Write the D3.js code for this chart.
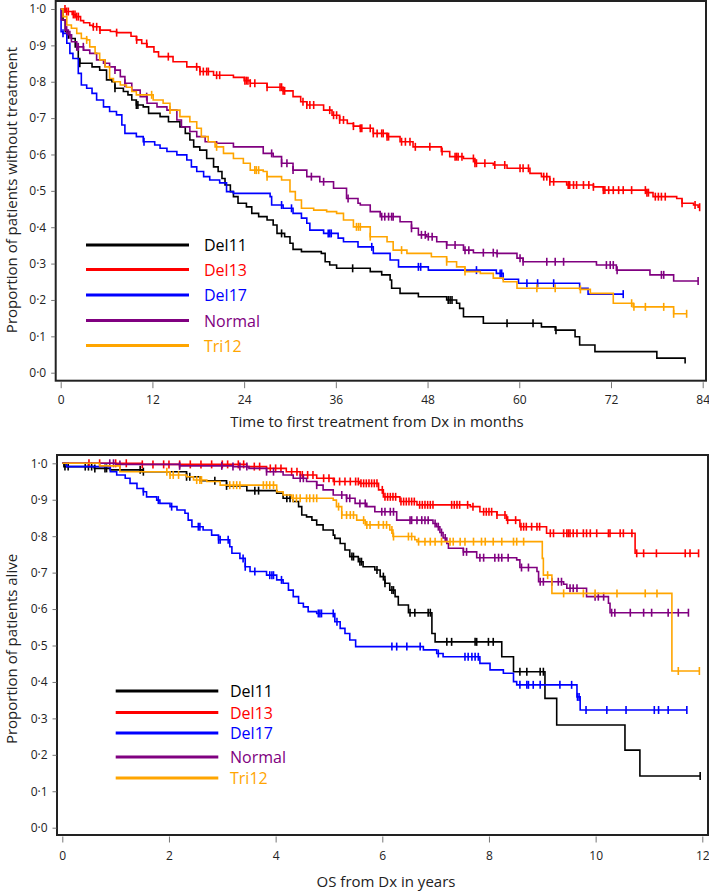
<!DOCTYPE html>
<html>
<head>
<meta charset="utf-8">
<script src="https://cdn.jsdelivr.net/npm/d3@7"></script>
<style>
  body { margin: 0; background: #fff; }
  svg { display: block; font-family: "Open Sans", "Noto Sans", sans-serif; }
</style>
</head>
<body>
<svg id="chart" width="709" height="892"></svg>
<script>
// ---------------- DATA ----------------
const groups = ["Del11", "Del13", "Del17", "Normal", "Tri12"];
const groupColors = ["#000000", "#ff0000", "#0000ff", "#800080", "#ffa500"];

// Panel 1: time to first treatment (months)
const tttTicksX = [0, 12, 24, 36, 48, 60, 72, 84];
const yTicks = [0, 0.1, 0.2, 0.3, 0.4, 0.5, 0.6, 0.7, 0.8, 0.9, 1.0];

// steps: [time of drop, new survival level]
const tttDel11 = [[0,1],[0.3,0.970],[0.6,0.938],[1.0,0.929],[1.4,0.919],[1.9,0.896],[2.3,0.864],[2.5,0.851],[4.1,0.841],[5.1,0.832],[6.0,0.805],[6.7,0.800],[7.1,0.782],[8.2,0.773],[8.8,0.764],[9.3,0.750],[9.9,0.736],[10.8,0.731],[11.5,0.713],[13,0.704],[14.1,0.690],[15.6,0.676],[16.3,0.658],[16.9,0.640],[17.4,0.621],[18.2,0.612],[19.1,0.589],[20,0.566],[20.6,0.553],[21.1,0.534],[21.5,0.516],[22.2,0.498],[22.6,0.484],[23.2,0.466],[24.3,0.456],[25,0.438],[25.9,0.429],[27,0.420],[27.8,0.406],[28.3,0.383],[29.3,0.374],[30,0.356],[30.4,0.339],[31.5,0.333],[34.1,0.328],[34.6,0.305],[35.2,0.296],[36.1,0.287],[40.5,0.278],[42,0.269],[43.1,0.255],[43.3,0.232],[44.4,0.218],[46.8,0.209],[50.5,0.200],[51.8,0.191],[52.2,0.177],[52.7,0.154],[55.3,0.136],[62.9,0.126],[64.7,0.117],[67.3,0.099],[67.9,0.076],[69.9,0.058],[78,0.040],[81.7,0.025]];
const tttDel11Cens = [1.0, 2.5, 7.1, 9.9, 10.1, 28.9, 38.2, 50.7, 50.95, 51.2, 58.4, 61.8, 64.8];

const tttDel13 = [[0,1],[0.6,0.993],[1.5,0.985],[1.9,0.979],[2.6,0.968],[3.0,0.962],[3.8,0.955],[4.2,0.951],[5.1,0.942],[6.5,0.938],[7.3,0.935],[9.2,0.925],[9.9,0.915],[10.6,0.905],[11.3,0.896],[12.2,0.882],[12.8,0.869],[14.7,0.855],[16.5,0.841],[18.2,0.828],[20,0.818],[22.6,0.812],[24.0,0.803],[24.8,0.796],[27,0.785],[29.1,0.775],[30.4,0.759],[31.4,0.745],[32.2,0.736],[34.4,0.722],[35.5,0.708],[36.5,0.695],[37.5,0.685],[38.3,0.678],[39.2,0.672],[40.9,0.658],[42.7,0.649],[44.4,0.635],[46.1,0.621],[49.8,0.608],[50.9,0.594],[52.7,0.589],[54.2,0.576],[56.6,0.571],[58.4,0.562],[61.4,0.548],[62.9,0.539],[64,0.525],[66.2,0.516],[69.7,0.511],[71,0.502],[76.7,0.495],[77.5,0.484],[80.6,0.479],[81.3,0.466],[82.8,0.461],[83.4,0.455]];
const tttDel13Cens = [0.56,0.78,1.0,1.65,1.87,2.09,2.31,4.27,4.71,5.14,7.32,9.94,11.25,14.08,17.79,18.23,18.66,19.1,19.32,20.4,20.8,24.1,24.3,24.5,24.8,25.4,27.0,28.7,28.9,29.1,29.3,31.7,32.2,32.6,33.1,35.2,35.7,36.1,36.5,37.0,38.3,39.2,39.4,40.5,40.9,41.4,42.0,42.2,42.7,42.9,44.6,45.1,45.7,46.4,48.3,49.9,51.6,51.8,52.0,52.5,54.0,54.2,54.4,55.5,56.8,58.1,60.1,60.5,61.2,63.2,63.6,64.0,64.5,66.4,66.6,67.1,67.5,68.4,69.1,69.7,71.0,71.2,71.7,72.3,73.0,73.6,74.7,76.5,76.7,76.9,77.8,78.2,78.6,79.1,81.3,83.0,83.6];

const tttDel17 = [[0,1],[0.05,0.9375],[0.3,0.933],[0.8,0.906],[1.2,0.878],[1.6,0.864],[2.3,0.823],[2.7,0.791],[3.4,0.782],[4.1,0.768],[4.7,0.750],[5.6,0.731],[6.4,0.718],[7.3,0.709],[8.0,0.681],[8.4,0.658],[9.9,0.649],[10.8,0.635],[12.3,0.626],[13.0,0.617],[13.9,0.608],[15.2,0.599],[16.5,0.585],[17.1,0.566],[17.8,0.553],[18.7,0.539],[19.5,0.530],[20.8,0.522],[21.7,0.498],[22.6,0.493],[27.4,0.484],[27.6,0.461],[29.1,0.452],[30.4,0.438],[31.5,0.425],[32.2,0.411],[32.6,0.392],[34.4,0.383],[36.3,0.370],[37.0,0.360],[38.9,0.346],[40.9,0.328],[43.1,0.310],[44.2,0.291],[48.1,0.282],[57.0,0.273],[57.9,0.257],[59.9,0.246],[67.9,0.232],[69.0,0.216]];
const tttDel17Cens = [0.3, 10.9, 28.9, 30.2, 35.0, 35.2, 35.4, 40.7, 46.8, 47.1, 54.4, 57.5, 57.7, 61.0, 62.4, 64.5, 73.6];

const tttNormal = [[0,1],[0.1,0.970],[0.6,0.942],[1.0,0.929],[1.4,0.910],[2.1,0.896],[3.0,0.887],[3.8,0.878],[4.7,0.860],[5.6,0.851],[6.4,0.841],[7.1,0.832],[7.8,0.814],[8.4,0.796],[9.3,0.777],[10.4,0.759],[11.3,0.741],[12.6,0.731],[13.9,0.722],[15.2,0.695],[15.8,0.676],[16.9,0.663],[17.8,0.649],[18.9,0.635],[20.4,0.631],[22.6,0.621],[26.5,0.603],[27.8,0.594],[28.9,0.576],[30.4,0.557],[32.2,0.539],[33.9,0.525],[35.7,0.507],[37.4,0.479],[38.9,0.466],[39.2,0.461],[40.5,0.443],[41.8,0.429],[44.4,0.415],[45.9,0.397],[46.8,0.379],[47.9,0.374],[49.2,0.360],[50.5,0.351],[52.7,0.337],[54.0,0.330],[57.0,0.328],[59.7,0.315],[60.5,0.305],[70.1,0.296],[72.7,0.282],[77.1,0.269],[80.2,0.252]];
const tttNormalCens = [0.78,1.2,2.1,2.3,2.96,5.8,7.1,8.4,11.25,27.6,28.9,29.6,30.4,32.8,34.4,37.6,42.0,42.4,42.9,43.3,43.5,45.9,47.2,47.7,48.1,48.6,50.5,51.6,52.9,53.4,55.3,56.6,57.1,60.1,60.5,63.6,64.7,65.8,71.4,71.9,72.3,72.8,78.6,78.9,83.4];

const tttTri12 = [[0,1],[0.3,0.979],[0.8,0.956],[1.4,0.947],[2.1,0.933],[2.7,0.919],[3.4,0.915],[3.8,0.896],[4.5,0.878],[5.1,0.860],[5.8,0.841],[6.4,0.809],[6.9,0.800],[7.8,0.791],[8.6,0.785],[9.3,0.773],[9.9,0.764],[12.1,0.750],[13.4,0.741],[14.3,0.722],[15.6,0.704],[16.9,0.690],[17.8,0.672],[18.4,0.649],[19.3,0.635],[20.2,0.621],[21.3,0.603],[22.6,0.589],[23.9,0.576],[24.8,0.557],[26.5,0.553],[27.0,0.539],[28.9,0.530],[30.0,0.498],[30.7,0.475],[31.5,0.452],[33.1,0.447],[34.8,0.443],[36.1,0.438],[37.0,0.420],[38.3,0.401],[40.5,0.374],[42.7,0.360],[43.5,0.337],[45.3,0.328],[48.5,0.319],[50.5,0.305],[51.8,0.291],[52.9,0.278],[54.9,0.273],[56.6,0.260],[57.9,0.250],[59.7,0.232],[67.9,0.229],[69.3,0.218],[72.3,0.191],[74.9,0.181],[80.2,0.162]];
const tttTri12Cens = [3.4,11.9,14.3,20.4,25.4,25.6,25.9,27.0,38.7,38.96,39.2,40.5,44.6,50.5,52.9,62.3,64.7,68.0,74.7,75.0,76.5,78.9,80.2,81.9];

// Panel 2: overall survival (years)
const osTicksX = [0, 2, 4, 6, 8, 10, 12];

const osDel11 = [[0,1],[0.03,0.991],[0.6,0.986],[0.9,0.982],[1.5,0.977],[2.33,0.963],[2.58,0.952],[3.08,0.938],[3.46,0.925],[4.02,0.918],[4.14,0.904],[4.33,0.895],[4.43,0.881],[4.49,0.858],[4.58,0.853],[4.68,0.844],[4.77,0.831],[4.89,0.817],[5.08,0.803],[5.11,0.794],[5.21,0.780],[5.3,0.762],[5.39,0.744],[5.55,0.730],[5.64,0.716],[5.86,0.707],[5.96,0.689],[6.05,0.671],[6.14,0.652],[6.24,0.634],[6.3,0.611],[6.49,0.590],[6.93,0.533],[6.99,0.510],[8.24,0.469],[8.46,0.428],[9.05,0.355],[9.27,0.282],[10.55,0.213],[10.83,0.142]];
const osDel11Cens = [0.05,0.11,0.43,0.49,0.55,0.61,0.8,0.83,1.46,1.52,2.33,2.39,2.86,3.08,3.61,3.68,4.21,4.27,5.43,5.46,5.58,5.61,5.9,6.02,6.05,6.18,6.21,6.52,6.61,6.86,6.9,7.21,7.3,7.74,7.77,7.99,8.08,8.58,8.71,8.96,9.02,11.96];

const osDel13 = [[0,1],[1.5,0.997],[3.46,0.991],[3.83,0.986],[4.2,0.977],[4.46,0.968],[4.77,0.959],[5.08,0.950],[5.58,0.945],[5.93,0.927],[6.02,0.908],[6.33,0.895],[6.65,0.886],[7.65,0.881],[7.83,0.867],[8.15,0.858],[8.33,0.844],[8.58,0.826],[9.08,0.808],[10.74,0.753]];
const osDel13Cens = [0.5,0.7,1.0,1.2,1.5,1.7,1.9,2.0,2.2,2.4,2.6,2.8,3.0,3.1,3.3,3.4,3.6,3.7,3.9,4.0,4.1,4.3,4.4,4.5,4.6,4.7,4.9,5.0,5.1,5.2,5.3,5.4,5.5,5.55,5.6,5.65,5.7,5.75,5.8,5.85,5.9,6.0,6.05,6.1,6.15,6.2,6.25,6.35,6.4,6.45,6.5,6.55,6.6,6.7,6.75,6.8,6.85,6.9,6.95,7.3,7.35,7.4,7.45,7.6,7.7,7.9,7.95,8.0,8.05,8.15,8.3,8.35,8.5,8.6,8.65,8.7,8.8,8.9,8.95,9.15,9.21,9.4,9.46,9.49,9.52,9.58,9.65,9.77,9.83,9.9,10.02,10.24,10.27,10.46,10.52,10.68,10.77,10.9,11.14,11.68,11.77,11.93];

const osDel17 = [[0,1],[0.08,0.991],[0.9,0.977],[1.02,0.968],[1.18,0.959],[1.27,0.945],[1.4,0.931],[1.52,0.922],[1.58,0.908],[1.77,0.899],[1.83,0.890],[2.02,0.881],[2.15,0.872],[2.3,0.863],[2.36,0.844],[2.43,0.826],[2.64,0.817],[2.8,0.803],[2.93,0.790],[3.14,0.771],[3.18,0.753],[3.33,0.739],[3.43,0.716],[3.52,0.703],[3.83,0.693],[4.02,0.680],[4.14,0.671],[4.24,0.652],[4.33,0.634],[4.43,0.616],[4.52,0.606],[4.61,0.593],[4.77,0.588],[5.11,0.565],[5.21,0.547],[5.3,0.533],[5.39,0.515],[5.5,0.497],[6.77,0.488],[7.02,0.478],[7.14,0.469],[7.83,0.451],[8.02,0.433],[8.27,0.424],[8.46,0.401],[8.52,0.392],[9.65,0.359],[9.71,0.323]];
const osDel17Cens = [1.52,1.80,2.05,2.55,2.58,2.93,2.96,3.11,3.39,3.43,3.61,3.89,3.93,3.96,4.11,4.80,4.83,4.86,5.08,5.15,6.18,6.27,6.46,6.71,7.05,7.55,7.61,7.68,7.74,7.8,8.58,8.71,8.74,8.83,8.96,9.33,9.55,9.66,9.69,9.82,10.21,10.57,11.1,11.18,11.36,11.71];

const osNormal = [[0,1],[1.0,0.997],[2.2,0.993],[3.2,0.991],[3.5,0.986],[3.83,0.977],[4.14,0.968],[4.33,0.959],[4.58,0.950],[4.77,0.940],[4.89,0.927],[5.08,0.913],[5.33,0.904],[5.49,0.890],[5.71,0.881],[5.86,0.867],[6.27,0.844],[6.95,0.835],[7.02,0.826],[7.08,0.810],[7.14,0.795],[7.21,0.780],[7.24,0.767],[7.52,0.757],[7.77,0.741],[8.52,0.735],[8.58,0.714],[8.9,0.703],[8.93,0.675],[9.4,0.668],[9.46,0.657],[9.83,0.634],[10.24,0.616],[10.27,0.590]];
const osNormalCens = [0.89,0.96,1.08,2.2,2.99,3.2,3.33,3.46,3.83,3.96,4.46,4.52,4.77,5.24,5.33,5.39,5.58,5.68,5.99,6.05,6.15,6.21,6.52,6.55,6.65,6.74,6.8,6.86,6.99,7.05,7.11,7.18,7.52,7.58,7.83,7.9,8.11,8.18,8.24,8.36,8.61,8.74,8.96,9.02,9.18,9.3,9.36,9.52,9.58,9.65,9.99,10.05,10.15,10.3,10.36,10.65,10.9,11.05,11.36,11.55,11.74];

const osTri12 = [[0,1],[0.7,0.993],[1.08,0.977],[2.02,0.968],[2.33,0.963],[2.46,0.954],[2.71,0.950],[2.96,0.940],[4.02,0.922],[4.14,0.913],[4.3,0.904],[5.08,0.899],[5.14,0.881],[5.24,0.858],[5.52,0.844],[5.68,0.831],[6.14,0.817],[6.2,0.799],[6.61,0.790],[6.65,0.785],[9.0,0.739],[9.02,0.693],[9.18,0.643],[11.43,0.430]];
const osTri12Cens = [1.96,2.02,2.08,2.18,2.52,2.58,2.61,3.14,3.21,3.27,3.33,3.77,3.83,3.89,3.96,4.33,4.39,4.46,4.58,4.64,4.71,4.77,5.18,5.24,5.33,5.4,5.46,5.65,5.71,5.77,5.93,6.02,6.08,6.18,6.21,6.49,6.55,6.68,6.8,6.9,6.99,7.11,7.27,7.33,7.46,7.55,7.71,7.86,7.93,8.08,8.24,8.46,8.52,8.65,9.1,9.4,9.77,9.99,10.4,10.93,11.15,11.55,11.945];

// ---------------- DRAWING ----------------
const svg = d3.select("#chart");
const fmt = d => d.toFixed(1).replace(".", "\u00B7");

function levelAt(steps, t) {
  let v = steps[0][1];
  for (const s of steps) { if (s[0] <= t + 1e-9) v = s[1]; else break; }
  return v;
}

function panel(cfg) {
  const g = svg.append("g");
  const x = d3.scaleLinear().domain(cfg.xDomain).range(cfg.xRange);
  const y = d3.scaleLinear().domain([0, 1]).range(cfg.yRange);

  // frame
  g.append("rect")
    .attr("x", cfg.box[0]).attr("y", cfg.box[1])
    .attr("width", cfg.box[2] - cfg.box[0]).attr("height", cfg.box[3] - cfg.box[1])
    .attr("fill", "none").attr("stroke", "#222").attr("stroke-width", 2);

  // axes
  const xAxis = g.append("g")
    .attr("transform", `translate(0,${cfg.box[3] + 1.5})`)
    .call(d3.axisBottom(x).tickValues(cfg.xTicks).tickSize(6).tickPadding(cfg.xPad).tickFormat(d3.format("d")));
  const yAxis = g.append("g")
    .attr("transform", `translate(${cfg.box[0] - 0.5},0)`)
    .call(d3.axisLeft(y).tickValues(yTicks).tickSize(4).tickPadding(5).tickFormat(fmt));
  [xAxis, yAxis].forEach(a => {
    a.select(".domain").remove();
    a.selectAll(".tick line").attr("stroke", "#777").attr("stroke-width", 1);
    a.selectAll("text").attr("font-size", 12).attr("fill", "#222")
      .attr("font-family", '"Open Sans", "Noto Sans", sans-serif');
  });

  // curves
  const line = d3.line().x(d => x(d[0])).y(d => y(d[1])).curve(d3.curveStepAfter);
  cfg.series.forEach((s, i) => {
    const last = s.steps[s.steps.length - 1];
    const end = Math.max(last[0], d3.max(s.cens) || 0);
    const pts = s.steps.concat([[end, last[1]]]);
    g.append("path").datum(pts)
      .attr("d", line).attr("fill", "none")
      .attr("stroke", groupColors[i]).attr("stroke-width", 1.6);
    g.append("g").selectAll("line").data(s.cens).join("line")
      .attr("x1", d => x(d)).attr("x2", d => x(d))
      .attr("y1", d => y(levelAt(s.steps, d)) - 4)
      .attr("y2", d => y(levelAt(s.steps, d)) + 4)
      .attr("stroke", groupColors[i]).attr("stroke-width", 1.6);
  });

  // legend
  const lg = g.append("g");
  groups.forEach((name, i) => {
    const ly = cfg.legendY[i];
    lg.append("line").attr("x1", cfg.legendX[0]).attr("x2", cfg.legendX[1])
      .attr("y1", ly).attr("y2", ly).attr("stroke", groupColors[i]).attr("stroke-width", 3);
    lg.append("text").attr("x", cfg.legendX[2]).attr("y", ly + 6)
      .attr("font-size", 16).attr("fill", groupColors[i]).text(name);
  });

  // titles
  g.append("text").attr("x", cfg.xTitle[0]).attr("y", cfg.xTitle[1])
    .attr("text-anchor", "middle").attr("font-size", 15).attr("fill", "#222").text(cfg.xLabel);
  g.append("text")
    .attr("transform", `translate(${cfg.yTitle[0]},${cfg.yTitle[1]}) rotate(-90)`)
    .attr("text-anchor", "middle").attr("font-size", 15).attr("fill", "#222").text(cfg.yLabel);
}

panel({
  xDomain: [0, 84], xRange: [60.7, 702.7], yRange: [372.7, 9],
  box: [55.7, 1, 706, 380.7], xTicks: tttTicksX, xPad: 7,
  series: [
    { steps: tttDel11, cens: tttDel11Cens },
    { steps: tttDel13, cens: tttDel13Cens },
    { steps: tttDel17, cens: tttDel17Cens },
    { steps: tttNormal, cens: tttNormalCens },
    { steps: tttTri12, cens: tttTri12Cens }
  ],
  legendX: [86, 189, 204], legendY: [245, 269.5, 295, 320.5, 345.5],
  xLabel: "Time to first treatment from Dx in months", xTitle: [377, 427],
  yLabel: "Proportion of patients without treatment", yTitle: [16.5, 190]
});

panel({
  xDomain: [0, 12], xRange: [62.3, 702.3], yRange: [827.7, 463.3],
  box: [57, 455, 708, 835], xTicks: osTicksX, xPad: 9,
  series: [
    { steps: osDel11, cens: osDel11Cens },
    { steps: osDel13, cens: osDel13Cens },
    { steps: osDel17, cens: osDel17Cens },
    { steps: osNormal, cens: osNormalCens },
    { steps: osTri12, cens: osTri12Cens }
  ],
  legendX: [115.7, 218.3, 230], legendY: [691, 712.5, 733, 757, 778],
  xLabel: "OS from Dx in years", xTitle: [386, 887],
  yLabel: "Proportion of patients alive", yTitle: [16.5, 649]
});
</script>
</body>
</html>
